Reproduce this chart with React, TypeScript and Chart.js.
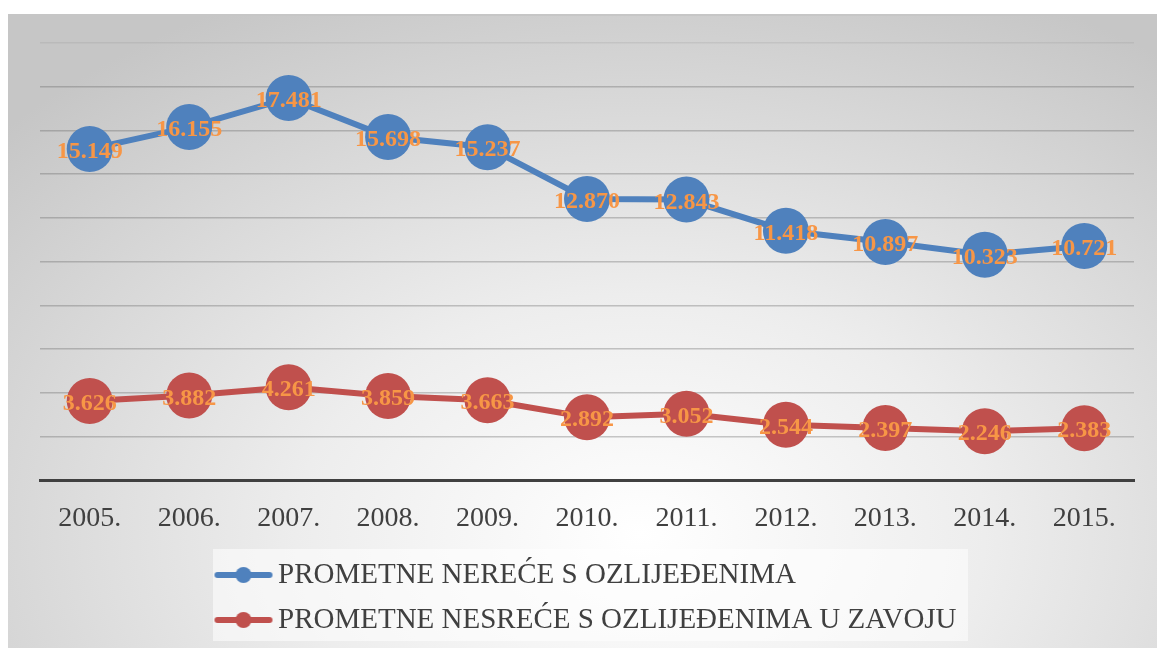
import React, { useEffect, useRef } from "react";
import { Chart, registerables } from "chart.js";

Chart.register(...registerables);

const categories = ["2005.", "2006.", "2007.", "2008.", "2009.", "2010.", "2011.", "2012.", "2013.", "2014.", "2015."];
const injuriesAll = [15149, 16155, 17481, 15698, 15237, 12870, 12843, 11418, 10897, 10323, 10721];
const injuriesCurve = [3626, 3882, 4261, 3859, 3663, 2892, 3052, 2544, 2397, 2246, 2383];
const seriesNames = ["PROMETNE NEREĆE S OZLIJEĐENIMA", "PROMETNE NESREĆE S OZLIJEĐENIMA U ZAVOJU"];
const seriesColors = ["#4f81bd", "#c0504d"];
const yMin = 0;
const yMax = 20000;
const yStep = 2000;

const SERIF = '"Liberation Serif", "Times New Roman", serif';

function fmt(n: number): string {
  const th = Math.floor(n / 1000);
  const rest = String(n % 1000).padStart(3, "0");
  return th > 0 ? `${th}.${rest}` : String(n);
}

function makeIcon(color: string): HTMLCanvasElement {
  const c = document.createElement("canvas");
  c.width = 60;
  c.height = 18;
  const g = c.getContext("2d")!;
  g.strokeStyle = color;
  g.lineWidth = 6;
  g.lineCap = "round";
  g.beginPath();
  g.moveTo(4, 9);
  g.lineTo(56, 9);
  g.stroke();
  g.fillStyle = color;
  g.beginPath();
  g.arc(30, 9, 8, 0, Math.PI * 2);
  g.fill();
  return c;
}

const valueLabels = {
  id: "valueLabels",
  afterDatasetsDraw(chart: any) {
    const ctx = chart.ctx;
    ctx.save();
    ctx.font = `bold 24px ${SERIF}`;
    ctx.fillStyle = "#f79646";
    ctx.textAlign = "center";
    ctx.textBaseline = "middle";
    chart.data.datasets.forEach((ds: any, i: number) => {
      const meta = chart.getDatasetMeta(i);
      meta.data.forEach((pt: any, j: number) => {
        ctx.fillText(fmt(ds.data[j]), pt.x, pt.y + 3);
      });
    });
    ctx.restore();
  },
};

const legendPlacer = {
  id: "legendPlacer",
  afterLayout(chart: any) {
    const lg = chart.legend;
    if (!lg) return;
    lg.left = 207.5;
    lg.right = 1000;
    lg.top = 544.5;
    lg.bottom = 648;
    lg.width = lg.right - lg.left;
    lg.height = lg.bottom - lg.top;
  },
  beforeDraw(chart: any) {
    const ctx = chart.ctx;
    ctx.save();
    ctx.fillStyle = "rgba(255,255,255,0.55)";
    ctx.fillRect(213, 549, 755, 92);
    ctx.restore();
  },
};

export default function App() {
  const ref = useRef<HTMLCanvasElement | null>(null);

  useEffect(() => {
    if (!ref.current) return;
    const icons = seriesColors.map(makeIcon);
    const chart = new Chart(ref.current, {
      type: "line",
      data: {
        labels: categories,
        datasets: [
          {
            label: seriesNames[0],
            data: injuriesAll,
            borderColor: seriesColors[0],
            backgroundColor: seriesColors[0],
            borderWidth: 6,
            pointRadius: 23,
            pointHoverRadius: 23,
            pointBorderWidth: 0,
            pointBackgroundColor: seriesColors[0],
            tension: 0,
          },
          {
            label: seriesNames[1],
            data: injuriesCurve,
            borderColor: seriesColors[1],
            backgroundColor: seriesColors[1],
            borderWidth: 6,
            pointRadius: 23,
            pointHoverRadius: 23,
            pointBorderWidth: 0,
            pointBackgroundColor: seriesColors[1],
            tension: 0,
          },
        ],
      },
      options: {
        responsive: false,
        animation: false,
        events: [],
        layout: { padding: { left: 40, right: 17, top: 43, bottom: 15 } },
        plugins: {
          tooltip: { enabled: false },
          legend: {
            position: "bottom",
            align: "start",
            maxHeight: 77,
            labels: {
              usePointStyle: true,
              pointStyleWidth: 40,
              padding: 16,
              color: "#404040",
              font: { family: SERIF, size: 29 },
              generateLabels: (c: any) => {
                const items = (Chart.defaults.plugins.legend.labels as any).generateLabels(c);
                items.forEach((it: any, i: number) => {
                  it.pointStyle = icons[i];
                  it.fontColor = "#404040";
                });
                return items;
              },
            },
          },
        },
        scales: {
          x: {
            offset: true,
            grid: { display: false, drawTicks: false },
            border: { display: true, color: "#404040", width: 3 },
            ticks: {
              color: "#404040",
              padding: 21,
              font: { family: SERIF, size: 28 },
            },
          },
          y: {
            min: yMin,
            max: yMax,
            ticks: { display: false, stepSize: yStep },
            border: { display: false },
            grid: {
              drawTicks: false,
              lineWidth: 1.5,
              color: (ctx: any) => {
                const v = ctx.tick ? ctx.tick.value : 0;
                if (v === 0) return "rgba(0,0,0,0)";
                if (v === yMax) return "rgba(120,120,120,0.15)";
                return "rgba(90,90,90,0.32)";
              },
            },
          },
        },
      },
      plugins: [legendPlacer, valueLabels],
    } as any);
    return () => chart.destroy();
  }, []);

  return (
    <div style={{ position: "fixed", left: 0, top: 0, width: 1157, height: 648, background: "#ffffff", overflow: "hidden" }}>
      <div
        style={{
          position: "absolute",
          left: 8,
          top: 14,
          width: 1149,
          height: 634,
          borderTop: "2px solid #c6c6c6",
          boxSizing: "border-box",
          background: "radial-gradient(ellipse 75% 95% at 55% 82%, #ffffff 0%, #ededed 40%, #d3d3d3 80%, #c6c6c6 100%)",
        }}
      />
      <canvas ref={ref} width={1157} height={648} style={{ position: "absolute", left: 0, top: 0, display: "block" }} />
    </div>
  );
}
